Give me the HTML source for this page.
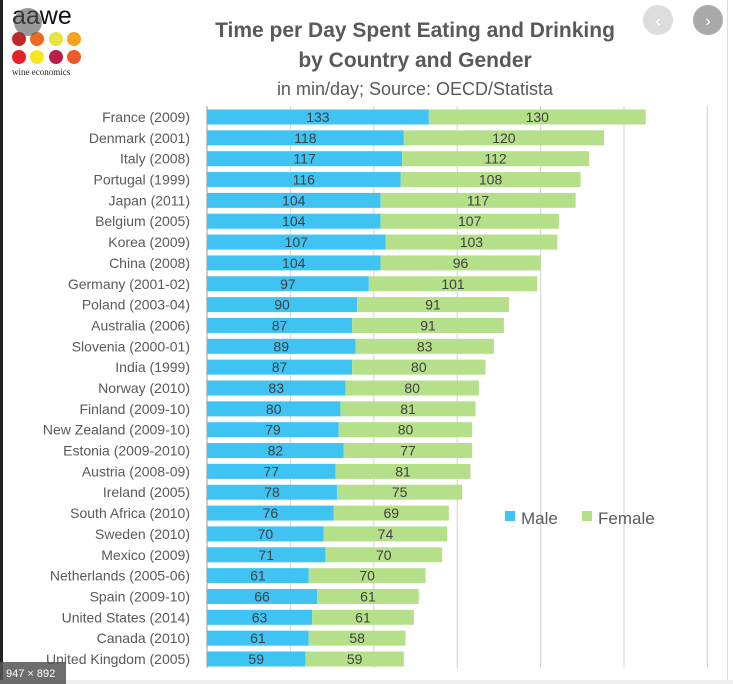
<!DOCTYPE html>
<html><head><meta charset="utf-8"><style>
html,body{margin:0;padding:0;background:#fff;}
svg{display:block;font-family:"Liberation Sans",sans-serif;}
</style></head><body>
<svg id="c" width="733" height="684" viewBox="0 0 733 684">
<rect x="0" y="0" width="3" height="684" fill="#222"/>
<rect x="727" y="0" width="1" height="684" fill="#ddd"/>
<rect x="0" y="680" width="733" height="4" fill="#eee"/>
<g>
<text x="12" y="24" font-size="25" fill="#111">aawe</text>
<circle cx="19" cy="39" r="7" fill="#c0282a"/><circle cx="37" cy="39" r="7" fill="#ee6a22"/><circle cx="56" cy="39" r="7" fill="#e9e23f"/><circle cx="74" cy="39" r="7" fill="#f5a21f"/>
<circle cx="19" cy="57" r="7" fill="#e2232a"/><circle cx="37" cy="57" r="7" fill="#f7e61f"/><circle cx="56" cy="57" r="7" fill="#b8204a"/><circle cx="74" cy="57" r="7" fill="#ee5a2a"/>
<text x="12" y="75" font-size="9" font-family="Liberation Serif,serif" fill="#222">wine economics</text>
<circle cx="28" cy="22" r="14" fill="#555" opacity="0.6"/>
</g>
<circle cx="658" cy="20" r="15" fill="#ddd"/>
<text x="658" y="26" font-size="16" fill="#fff" text-anchor="middle">‹</text>
<circle cx="708" cy="20" r="15" fill="#a9a9a9"/>
<text x="708" y="26" font-size="16" fill="#fff" text-anchor="middle">›</text>
<text x="415" y="37" font-size="21" font-weight="bold" fill="#595959" text-anchor="middle">Time per Day Spent Eating and Drinking</text>
<text x="415" y="67" font-size="21" font-weight="bold" fill="#595959" text-anchor="middle">by Country and Gender</text>
<text x="415" y="95" font-size="18" fill="#595959" text-anchor="middle">in min/day; Source: OECD/Statista</text>
<g id="grid"></g><g id="bars"></g><g id="labels"></g>
<g>
<rect x="505" y="511" width="10" height="10" fill="#3ec3f2"/>
<text x="521" y="524" font-size="17" fill="#595959">Male</text>
<rect x="582" y="511" width="10" height="10" fill="#b6df8a"/>
<text x="598" y="524" font-size="17" fill="#595959">Female</text>
</g>
<rect x="0" y="662" width="66" height="22" fill="#555" opacity="0.85"/>
<text x="6" y="677" font-size="11" fill="#fff">947 × 892</text>
</svg>
<script>
const categories=["France (2009)","Denmark (2001)","Italy (2008)","Portugal (1999)","Japan (2011)","Belgium (2005)","Korea (2009)","China (2008)","Germany (2001-02)","Poland (2003-04)","Australia (2006)","Slovenia (2000-01)","India (1999)","Norway (2010)","Finland (2009-10)","New Zealand (2009-10)","Estonia (2009-2010)","Austria (2008-09)","Ireland (2005)","South Africa (2010)","Sweden (2010)","Mexico (2009)","Netherlands (2005-06)","Spain (2009-10)","United States (2014)","Canada (2010)","United Kingdom (2005)"];
const male=[133,118,117,116,104,104,107,104,97,90,87,89,87,83,80,79,82,77,78,76,70,71,61,66,63,61,59];
const female=[130,120,112,108,117,107,103,96,101,91,91,83,80,80,81,80,77,81,75,69,74,70,70,61,61,58,59];
const ticks=[0,50,100,150,200,250,300];
const NS="http://www.w3.org/2000/svg";
const x0=207,pxPer=83.4/50,y0=117,step=(659-117)/26,bh=15;
const X=v=>x0+v*pxPer, Y=i=>y0+i*step;
function mk(t,a,p){const e=document.createElementNS(NS,t);for(const k in a)e.setAttribute(k,a[k]);p.appendChild(e);return e;}
const g=document.getElementById('grid'),b=document.getElementById('bars'),l=document.getElementById('labels');
ticks.forEach(t=>{const e=mk('line',{x1:X(t),x2:X(t),y1:106,y2:668,stroke:t===0?'#ccc':'#d9d9d9','stroke-width':t===0?2:1.2},g);

});
categories.forEach((c,i)=>{
const cy=Y(i);
const t=mk('text',{x:190,y:cy+5,'font-size':14,fill:'#595959','text-anchor':'end'},l);t.textContent=c;


const m=mk('rect',{x:X(0),y:cy-bh/2,width:X(male[i])-X(0),height:bh,fill:'#3ec3f2'},b);


const f=mk('rect',{x:X(male[i]),y:cy-bh/2,width:X(male[i]+female[i])-X(male[i]),height:bh,fill:'#b6df8a'},b);


const mt=mk('text',{x:(X(0)+X(male[i]))/2,y:cy+5,'font-size':14,fill:'#404040','text-anchor':'middle'},b);mt.textContent=male[i];


const ft=mk('text',{x:(X(male[i])+X(male[i]+female[i]))/2,y:cy+5,'font-size':14,fill:'#404040','text-anchor':'middle'},b);ft.textContent=female[i];


});
</script>
</body></html>
